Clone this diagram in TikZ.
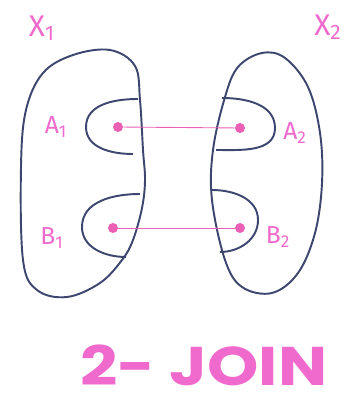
\documentclass[tikz,border=0pt]{standalone}
\usepackage{fontspec}
\setmainfont{Fira Sans}
\newfontfamily\titular{Poppins}
\definecolor{rosa}{RGB}{240,105,205}
\definecolor{rosalinea}{RGB}{235,95,180}
\definecolor{borde}{RGB}{60,70,110}
\begin{document}
\begin{tikzpicture}[x=0.02cm, y=-0.02cm,
    conjunto/.style={draw=borde, line width=1.1pt, line join=round},
    punto/.style={circle, fill=rosalinea, inner sep=0pt, minimum size=0.2cm},
    etiqueta/.style={text=rosa, inner sep=0pt, font=\fontsize{14}{14}\selectfont},
    nombre/.style={text=rosa, inner sep=0pt, font=\fontsize{17}{17}\selectfont}]

        \useasboundingbox (0,0) rectangle (350,404);

        % Conjuntos
        \draw[conjunto] plot[smooth cycle, tension=0.6] coordinates {
            (110,50) (135,66) (140,100) (143,150) (145,180) (142,208) (133,240)
            (122,260) (100,283) (67,297) (37,290) (23,260) (21,167) (26,110)
            (43,73) (73,55)};
        \draw[conjunto] plot[smooth cycle, tension=0.6] coordinates {
            (262,53) (285,58) (308,87) (320,133) (322,183) (315,233) (298,273)
            (272,293) (242,287) (225,260) (212,200) (213,150) (225,97) (238,67)};

        % Bolsas
        \draw[conjunto] (138,99) to[out=180, in=90] (86,127) to[out=-90, in=180] (133,154);
        \draw[conjunto] (140,194) to[out=180, in=90] (82,227) to[out=-90, in=180] (126,257);
        \draw[conjunto] (222,98) to[out=0, in=90] (275,128) to[out=-90, in=0] (216,150);
        \draw[conjunto] (212,190) to[out=0, in=90] (258,220) to[out=-90, in=0] (220,252);

        % Puntos
        \node[punto] (a1) at (118,127) {};
        \node[punto] (b1) at (113,228) {};
        \node[punto] (a2) at (240,128) {};
        \node[punto] (b2) at (240,228) {};

        % Conexiones
        \draw[rosalinea, line width=0.5pt] (a1) -- (a2);
        \draw[rosalinea, line width=0.5pt] (b1) -- (b2);

        % Etiquetas
        \node[nombre] (x1) at (42,28) {X\textsubscript{1}};
        \node[nombre] (x2) at (328,27) {X\textsubscript{2}};
        \node[etiqueta] (la1) at (56,127) {A\textsubscript{1}};
        \node[etiqueta] (lb1) at (52,238) {B\textsubscript{1}};
        \node[etiqueta] (la2) at (295,133) {A\textsubscript{2}};
        \node[etiqueta] (lb2) at (278,237) {B\textsubscript{2}};

        %
        \node[text=rosa, inner sep=0pt, xscale=1.2, font=\fontsize{31}{31}\titular\bfseries\selectfont] (titulo) at (204,365) {2- JOIN};

    \end{tikzpicture}
\end{document}
